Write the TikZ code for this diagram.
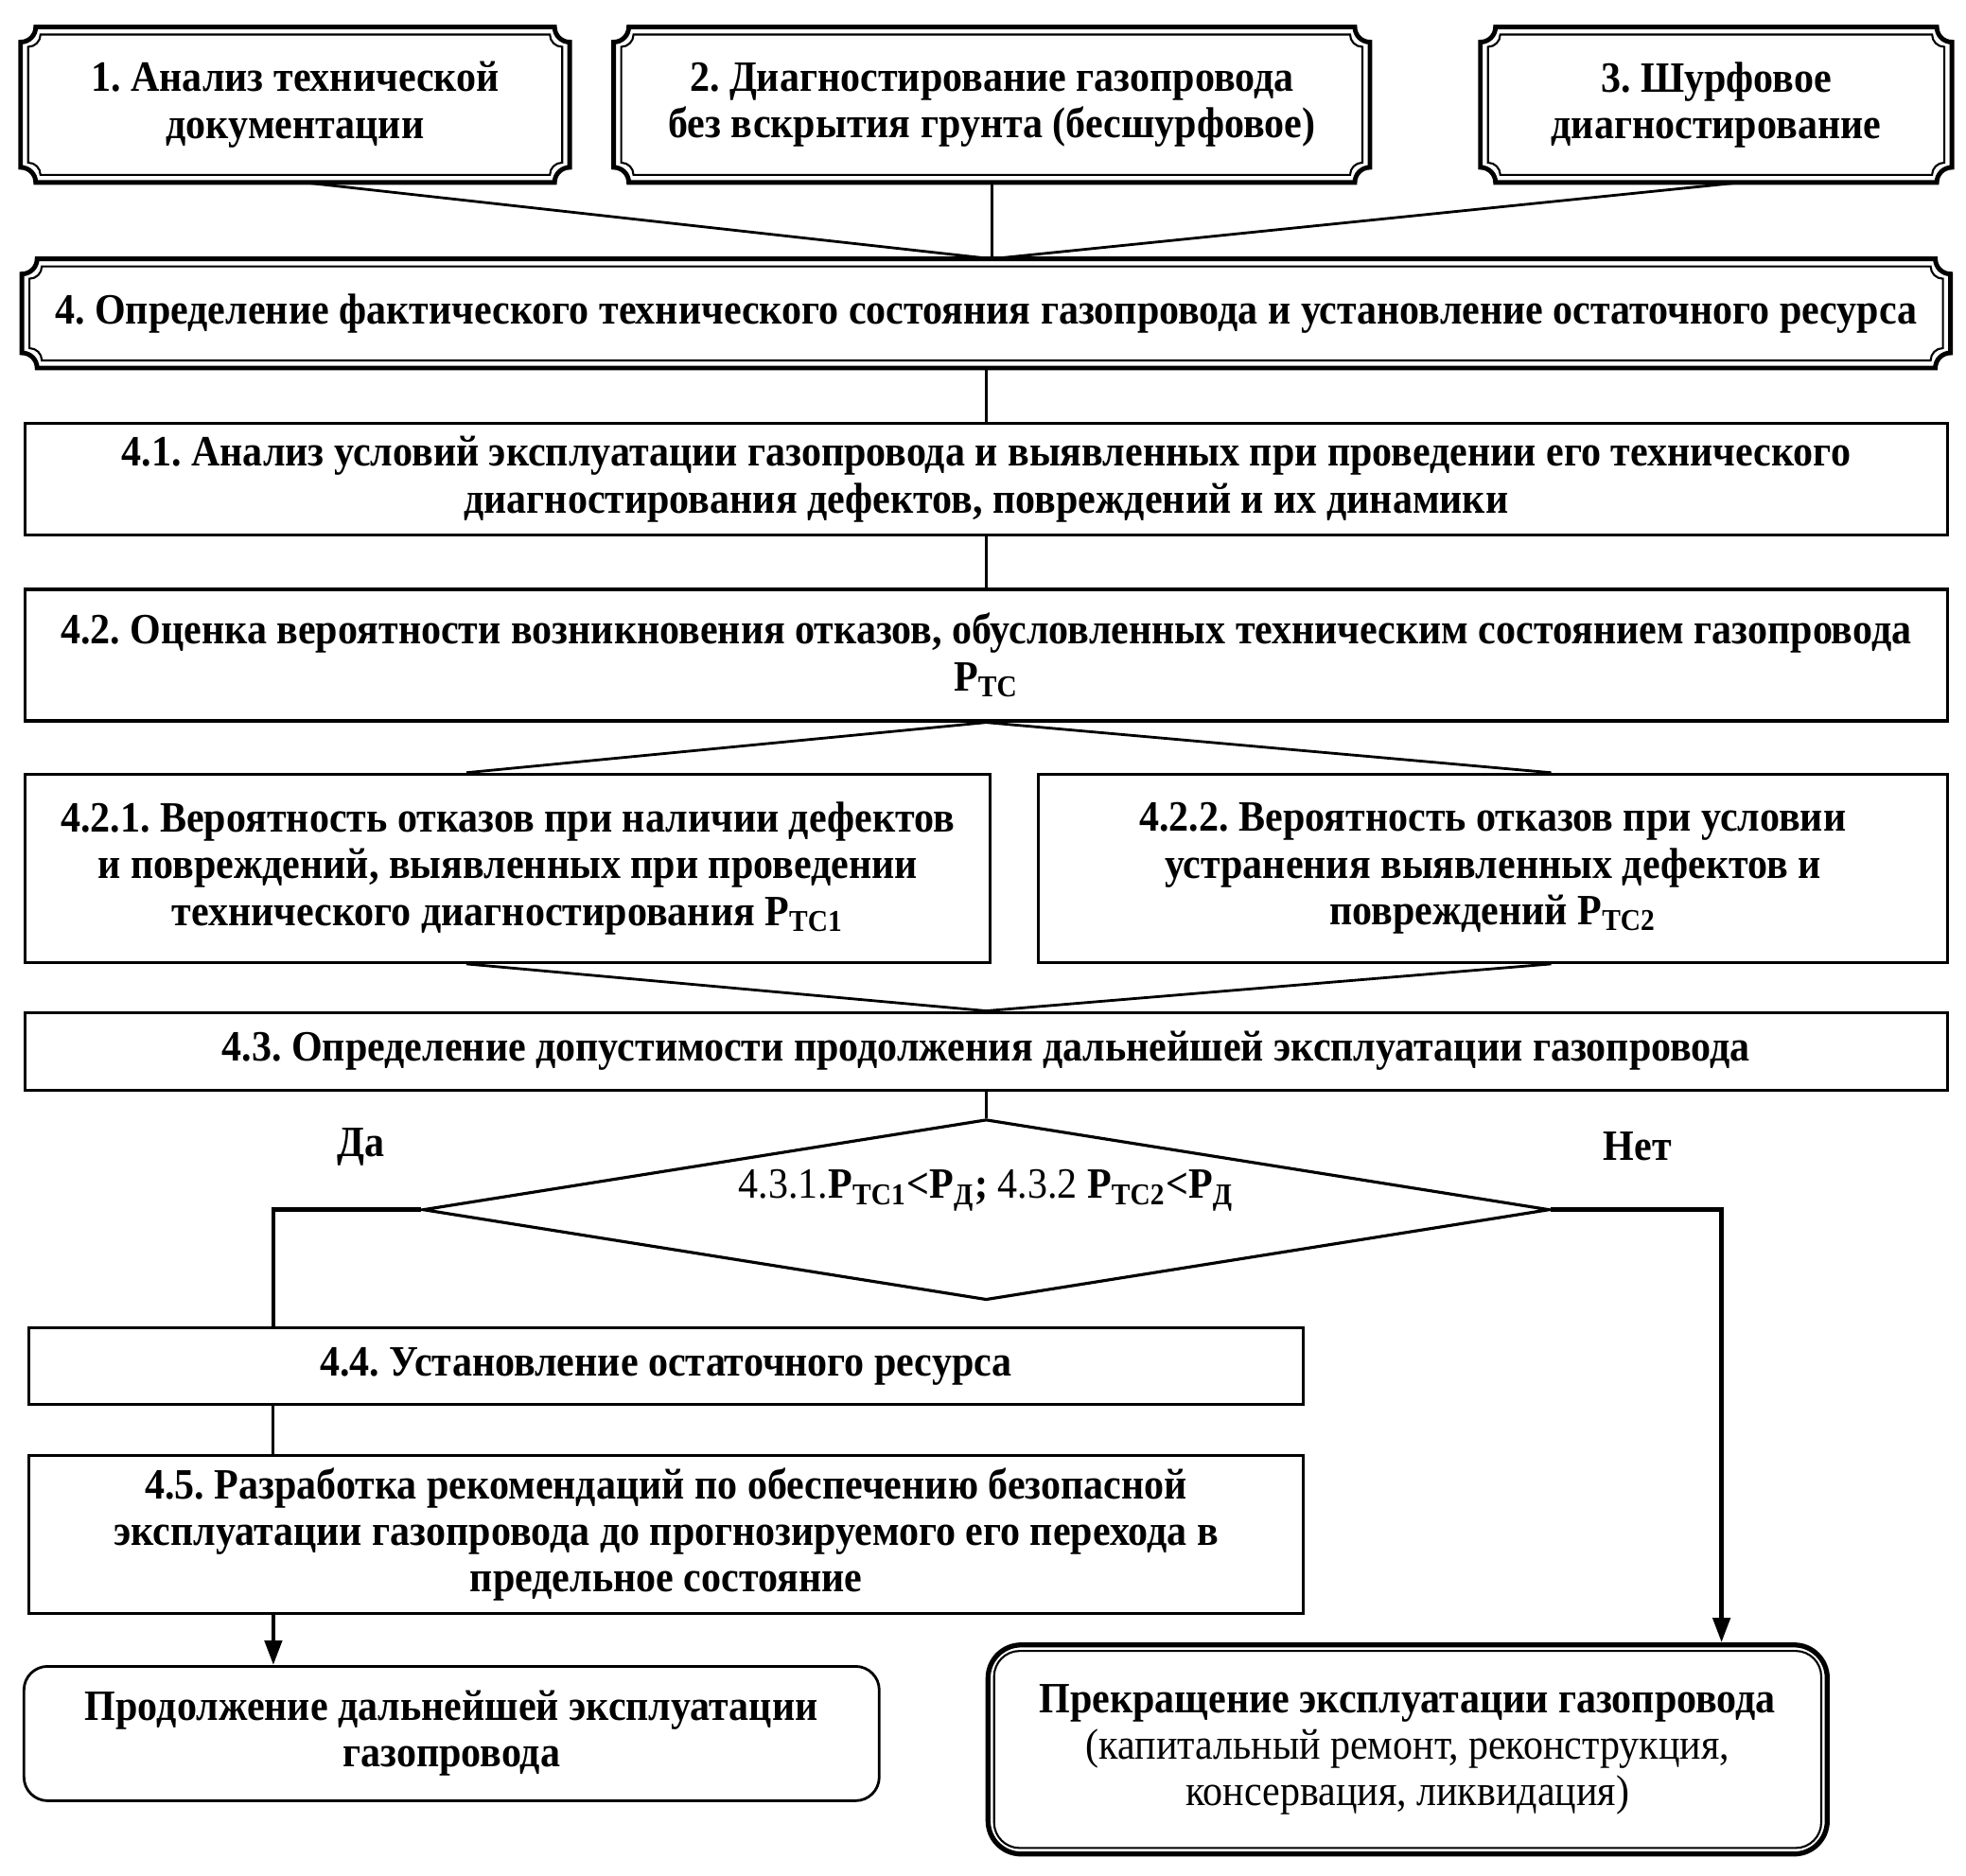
\documentclass[tikz,border=0pt]{standalone}
\usepackage{fontspec}
\setmainfont{Liberation Serif}[FakeStretch=0.92]
\usetikzlibrary{shapes.geometric, arrows.meta, positioning, calc}
\newcommand\txt{\fontsize{13}{14}\selectfont\frenchspacing}
% double frame with concave corners round a node
\newcommand\fancyframe[1]{%
  \draw[frameout] let \p1=(#1.south west), \p2=(#1.north east) in
    (\x1,\y2-1.6mm) -- (\x1,\y1+1.6mm) arc[start angle=90,end angle=0,radius=1.6mm]
    -- (\x2-1.6mm,\y1) arc[start angle=180,end angle=90,radius=1.6mm]
    -- (\x2,\y2-1.6mm) arc[start angle=270,end angle=180,radius=1.6mm]
    -- (\x1+1.6mm,\y2) arc[start angle=0,end angle=-90,radius=1.6mm] -- cycle;
  \draw[framein] let \p1=($(#1.south west)+(0.8mm,0.8mm)$), \p2=($(#1.north east)-(0.8mm,0.8mm)$) in
    (\x1,\y2-1.3mm) -- (\x1,\y1+1.3mm) arc[start angle=90,end angle=0,radius=1.3mm]
    -- (\x2-1.3mm,\y1) arc[start angle=180,end angle=90,radius=1.3mm]
    -- (\x2,\y2-1.3mm) arc[start angle=270,end angle=180,radius=1.3mm]
    -- (\x1+1.3mm,\y2) arc[start angle=0,end angle=-90,radius=1.3mm] -- cycle;
}

\begin{document}
\begin{tikzpicture}[x=1mm, y=1mm,
    fancy/.style={minimum height=16.3mm, align=center, inner sep=0pt, font=\txt\bfseries},
    stage/.style={draw, line width=0.9pt, minimum width=203.2mm, align=center, inner sep=0pt, font=\txt\bfseries},
    decision/.style={diamond, draw, line width=0.9pt, aspect=6.24, minimum width=119.1mm, minimum height=19.1mm,
      inner sep=0pt, font=\txt},
    endbox/.style={draw, line width=0.8pt, rounded corners=2.5mm, align=center, inner sep=0pt, font=\txt\bfseries},
    stopbox/.style={draw, line width=1.5pt, rounded corners=3.5mm, align=center, inner sep=0pt, font=\txt},
    frameout/.style={line width=1.4pt},
    framein/.style={line width=0.6pt},
    answer/.style={font=\txt\bfseries},
    link/.style={line width=0.8pt},
    branch/.style={line width=1.3pt},
    arrow/.style={branch, -{Triangle[length=2.6mm, width=1.8mm]}}
  ]
  \useasboundingbox (0,0) rectangle (207.8,-198.3);

  \node[fancy, minimum width=79.8mm] (diag) at (104.83,-11.07) {2. Диагностирование газопровода\\без вскрытия грунта (бесшурфовое)};
  \node[fancy, minimum width=57.9mm, left=4.64mm of diag] (docs) {1. Анализ технической\\документации};
  \node[fancy, minimum width=49.7mm, right=11.67mm of diag] (pit) {3. Шурфовое\\диагностирование};
  \node[fancy, minimum width=203.7mm, minimum height=11.4mm] (state) at (104.24,-33.13)
    {4. Определение фактического технического состояния газопровода и установление остаточного ресурса};
  \fancyframe{docs}
  \fancyframe{diag}
  \fancyframe{pit}
  \fancyframe{state}

  \node[stage, minimum height=11.8mm, below=5.7mm of state] (cond)
    {4.1. Анализ условий эксплуатации газопровода и выявленных при проведении его технического\\
     диагностирования дефектов, повреждений и их динамики};
  \node[stage, minimum height=13.9mm, below=5.43mm of cond] (prob)
    {4.2. Оценка вероятности возникновения отказов, обусловленных техническим состоянием газопровода\\
     Р\textsubscript{ТС}};
  \node[stage, minimum width=102.05mm, minimum height=19.9mm, below right=5.31mm and 0mm of prob.south west] (probdef)
    {4.2.1. Вероятность отказов при наличии дефектов\\и повреждений, выявленных при проведении\\
     технического диагностирования Р\textsubscript{ТС1}};
  \node[stage, minimum width=96.1mm, minimum height=19.9mm, below left=5.31mm and 0mm of prob.south east] (probfix)
    {4.2.2. Вероятность отказов при условии\\устранения выявленных дефектов и\\повреждений Р\textsubscript{ТС2}};
  \node[stage, minimum height=8.2mm, below=30.49mm of prob] (admit)
    {4.3. Определение допустимости продолжения дальнейшей эксплуатации газопровода};
  \node[decision, below=2.79mm of admit] (crit)
    {\raisebox{5.4mm}{4.3.1.\textbf{Р\textsubscript{ТС1}<Р\textsubscript{Д};} 4.3.2 \textbf{Р\textsubscript{ТС2}<Р\textsubscript{Д}}}};
  \node[answer] (yes) at (38.17,-121.2) {Да};
  \node[answer] (no) at (173.08,-121.2) {Нет};

  \node[stage, minimum width=134.65mm, minimum height=8.1mm, anchor=north west] (resrc) at (2.92,-140.22)
    {4.4. Установление остаточного ресурса};
  \node[stage, minimum width=134.65mm, minimum height=16.7mm, below=5.04mm of resrc] (recom)
    {4.5. Разработка рекомендаций по обеспечению безопасной\\
     эксплуатации газопровода до прогнозируемого его перехода в\\предельное состояние};
  \node[endbox, minimum width=90.4mm, minimum height=14.2mm, anchor=north west] (cont) at (2.39,-176.0)
    {Продолжение дальнейшей эксплуатации\\газопровода};
  \node[stopbox, minimum width=88.7mm, minimum height=22.1mm, anchor=north west] (stop) at (104.17,-173.61)
    {\textbf{Прекращение эксплуатации газопровода}\\(капитальный ремонт, реконструкция,\\консервация, ликвидация)};
  \draw[framein, rounded corners=2.7mm] ($(stop.south west)+(0.9mm,0.9mm)$) rectangle ($(stop.north east)-(0.9mm,0.9mm)$);

  \coordinate (yesx) at (28.89,0);
  \coordinate (nox) at (181.96,0);

  \draw[link] ([xshift=1mm]docs.south) -- (diag.south |- state.north) -- ([xshift=2.5mm]pit.south);
  \draw[link] (diag.south) -- (diag.south |- state.north);
  \draw[link] (state) -- (cond);
  \draw[link] (cond) -- (prob);
  \draw[link] ([xshift=-4.37mm]probdef.north) -- (prob.south) -- ([xshift=6.16mm]probfix.north);
  \draw[link] ([xshift=-4.37mm]probdef.south) -- (admit.north) -- ([xshift=6.16mm]probfix.south);
  \draw[link] (admit) -- (crit);
  \draw[branch] (crit.west) -| (yesx |- resrc.north);
  \draw[link] (yesx |- resrc.south) -- (yesx |- recom.north);
  \draw[arrow] (yesx |- recom.south) -- (yesx |- cont.north);
  \draw[arrow] (crit.east) -| (nox |- stop.north);
\end{tikzpicture}
\end{document}
